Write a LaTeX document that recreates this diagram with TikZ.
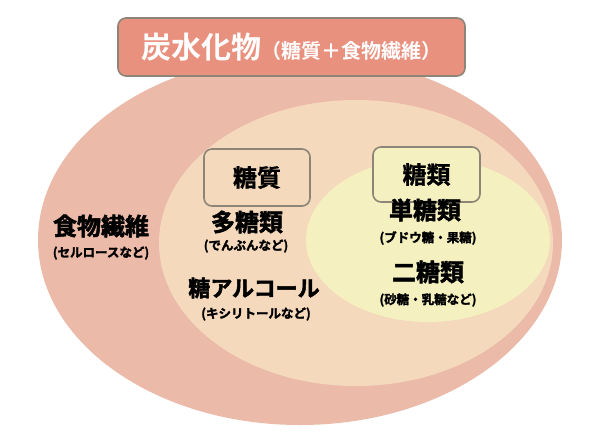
\documentclass[tikz,border=0pt]{standalone}
\usepackage{fontspec}
\setmainfont{Noto Sans CJK JP}[BoldFont={* Bold}]
\newfontfamily\heavyfont{Noto Sans CJK JP Bold}[RawFeature={embolden=2}]
\newfontfamily\boxfont{Noto Sans CJK JP Bold}[RawFeature={embolden=1}]

\definecolor{fiberpink}{HTML}{EBBAA9}
\definecolor{glucidebeige}{HTML}{F4D9BD}
\definecolor{sugaryellow}{HTML}{F5F0C0}
\definecolor{titlesalmon}{HTML}{E9917F}
\definecolor{framegray}{HTML}{8C8578}

\begin{document}
\begin{tikzpicture}[x=1pt, y=-1pt,
    labelbox/.style={draw=framegray, line width=1.6pt, rounded corners=8pt},
    bigword/.style={inner sep=0pt, font=\heavyfont\fontsize{24}{24}\selectfont},
    smallword/.style={inner sep=0pt, font=\heavyfont\fontsize{12.5}{12.5}\selectfont}]

  \useasboundingbox (0,0) rectangle (600,440);

  % Nested sets
  \fill[fiberpink] (300,240) ellipse [x radius=262, y radius=185]; % carbohydrates
  \fill[glucidebeige] (356,243) ellipse [x radius=197, y radius=143]; % glucides
  \fill[sugaryellow] (428,240) ellipse [x radius=122, y radius=82]; % sugars

  % Title
  \node[labelbox, fill=titlesalmon, text=white, minimum width=347pt, minimum height=58pt,
        inner sep=0pt, font=\bfseries] (title) at (291.5,47)
        {{\fontsize{30}{30}\selectfont 炭水化物}{\fontsize{20}{20}\selectfont （糖質＋食物繊維）}};

  % Set names
  \node[labelbox, fill=glucidebeige, minimum width=106pt, minimum height=57pt,
        inner sep=0pt, font=\boxfont\fontsize{24}{24}\selectfont] (glucide) at (257,177.5) {糖質};
  \node[labelbox, fill=sugaryellow, minimum width=107pt, minimum height=55pt,
        inner sep=0pt, font=\boxfont\fontsize{24}{24}\selectfont] (sugar) at (426.5,174.5) {糖類};

  % Dietary fibre
  \node[bigword] (fiber) at (101,226) {食物繊維};
  \node[smallword] (fibernote) at (101,253) {(セルロースなど)};

  % Glucides outside sugars
  \node[bigword] (poly) at (247,222) {多糖類};
  \node[smallword] (polynote) at (246,246) {(でんぷんなど)};
  \node[bigword, font=\heavyfont\fontsize{22}{22}\selectfont] (alcohol) at (254,288) {糖アルコール};
  \node[smallword] (alcoholnote) at (256,314) {(キシリトールなど)};

  % Sugars
  \node[bigword] (mono) at (425,210) {単糖類};
  \node[smallword] (mononote) at (428,238) {(ブドウ糖・果糖)};
  \node[bigword] (di) at (428,272) {二糖類};
  \node[smallword] (dinote) at (428,300) {(砂糖・乳糖など)};

\end{tikzpicture}
\end{document}
